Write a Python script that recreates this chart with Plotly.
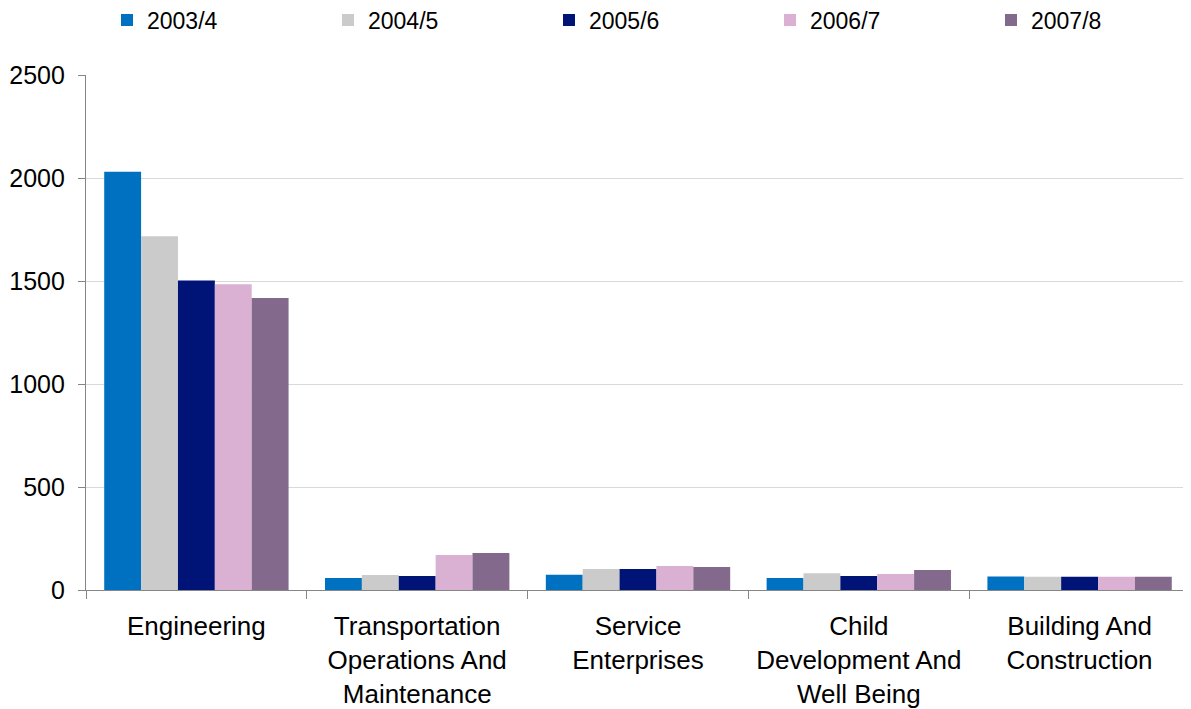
import plotly.graph_objects as go

categories = ["Engineering", "Transportation<br>Operations And<br>Maintenance", "Service<br>Enterprises",
              "Child<br>Development And<br>Well Being", "Building And<br>Construction"]
series_names = ["2003/4", "2004/5", "2005/6", "2006/7", "2007/8"]
v_2003_4 = [2030, 58, 74, 58, 65]
v_2004_5 = [1717, 73, 102, 81, 64]
v_2005_6 = [1503, 68, 102, 68, 64]
v_2006_7 = [1484, 170, 117, 78, 64]
v_2007_8 = [1417, 180, 112, 97, 64]
colors = ["#0070C0", "#CBCBCB", "#001478", "#DAB1D2", "#836A8C"]
values = [v_2003_4, v_2004_5, v_2005_6, v_2006_7, v_2007_8]

fig = go.Figure()
for name, vals, c in zip(series_names, values, colors):
    fig.add_trace(go.Bar(x=categories, y=vals, name=name, marker=dict(color=c, line=dict(width=0))))

font = "Liberation Sans, Arial, sans-serif"
W, H = 1183, 701
fig.update_layout(
    width=W, height=H,
    margin=dict(l=78, r=1, t=67, b=119, autoexpand=False),
    paper_bgcolor="white", plot_bgcolor="white",
    barmode="group", bargap=0.165, bargroupgap=0,
    font=dict(family=font, size=24, color="black"),
    legend=dict(orientation="h", x=(107 - 86) / 1104, xref="paper", y=1 - 12 / H, yref="container",
                yanchor="middle", entrywidth=176, font=dict(size=23), itemwidth=30, traceorder="normal"),
    xaxis=dict(showline=True, linecolor="#868686", linewidth=1.2, ticks="outside", tickson="boundaries",
               ticklen=8, tickcolor="#868686", tickwidth=1.2, tickfont=dict(size=26), ticklabelstandoff=13,
               automargin=False),
    yaxis=dict(range=[0, 2500], dtick=500, showgrid=True, gridcolor="#D9D9D9", gridwidth=1,
               showline=True, linecolor="#868686", linewidth=1.2, ticks="outside", ticklen=7,
               tickcolor="#868686", tickwidth=1.2, tickfont=dict(size=25), zeroline=False, automargin=False,
               ticklabelstandoff=8),
)
fig.write_html("out.html")
